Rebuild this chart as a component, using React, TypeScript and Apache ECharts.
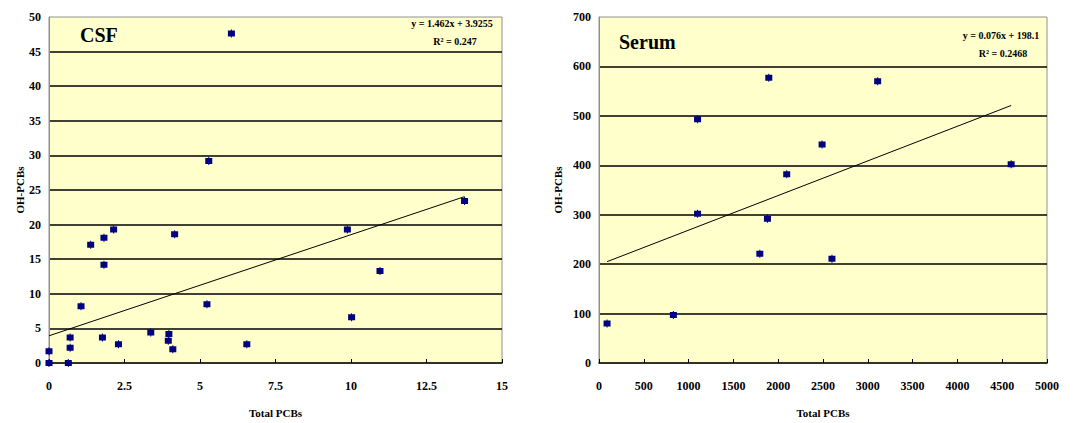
import React, { useEffect, useRef } from "react";
import * as echarts from "echarts";

// CSF data: [Total PCBs, OH-PCBs]
const csfX = [0, 0, 0.64, 0.7, 0.7, 1.06, 1.38, 1.82, 1.82, 1.77, 2.14, 2.3, 3.37, 3.97, 3.95, 4.1, 4.16, 5.23, 5.29, 6.04, 6.55, 9.88, 10.02, 10.96, 13.76];
const csfY = [0, 1.7, 0, 2.2, 3.7, 8.2, 17.1, 18.1, 14.2, 3.7, 19.3, 2.7, 4.4, 4.2, 3.2, 2.0, 18.6, 8.5, 29.2, 47.6, 2.7, 19.3, 6.6, 13.3, 23.4];
const csfTrendX = [0, 13.76];
const csfTrendY = [3.93, 24.04];

// Serum data
const serumX = [90, 830, 1100, 1795, 1880, 2600, 1100, 1895, 2095, 2490, 3110, 4600];
const serumY = [80, 97, 302, 221, 292, 211, 493, 577, 382, 442, 570, 402];
const serumTrendX = [90, 4600];
const serumTrendY = [205, 521];

const csfEq = ["y = 1.462x + 3.9255", "R² = 0.247"];
const serumEq = ["y = 0.076x + 198.1", "R² = 0.2468"];

const FONT = "'Liberation Serif', 'DejaVu Serif', serif";
const MARK = "path://M3,0 L4,0 L4,1 L7,1 L7,7 L4,7 L4,8 L3,8 L3,7 L0,7 L0,1 L3,1 Z";

const zip = (a: number[], b: number[]) => a.map((v, i) => [v, b[i]]);

export default function App() {
  const ref = useRef<HTMLDivElement>(null);
  useEffect(() => {
    document.body.style.margin = "0";
    const chart = echarts.init(ref.current!, null, { renderer: "svg" });
    const labelStyle = { fontFamily: FONT, fontWeight: "bold" as const, fontSize: 12, color: "#000" };
    const mkX = (idx: number, max: number, interval: number) => ({
      type: "value",
      gridIndex: idx,
      min: 0,
      max,
      interval,
      name: "Total PCBs",
      nameLocation: "middle",
      nameGap: 44,
      nameTextStyle: { fontFamily: FONT, fontWeight: "bold", fontSize: 11, color: "#000" },
      axisLine: { lineStyle: { color: "#000", width: 1.5 } },
      axisTick: { show: true, inside: true, length: 4, lineStyle: { color: "#000" } },
      axisLabel: { ...labelStyle, margin: 17, formatter: (v: number) => String(v) },
      splitLine: { show: false },
    });
    const mkY = (idx: number, max: number, interval: number, gap: number) => ({
      type: "value",
      gridIndex: idx,
      min: 0,
      max,
      interval,
      name: "OH-PCBs",
      nameLocation: "middle",
      nameGap: gap,
      nameRotate: 90,
      nameTextStyle: { fontFamily: FONT, fontWeight: "bold", fontSize: 11, color: "#000" },
      axisLine: { show: true, lineStyle: { color: "#909090", width: 1 } },
      axisTick: { show: false },
      axisLabel: { ...labelStyle, margin: 8, formatter: (v: number) => String(v) },
      splitLine: { show: true, showMaxLine: false, showMinLine: false, lineStyle: { color: "#000", width: 1.5 } },
    });
    const scatter = (idx: number, data: number[][]) => ({
      type: "scatter",
      xAxisIndex: idx,
      yAxisIndex: idx,
      data,
      symbol: MARK,
      symbolSize: [7, 8],
      itemStyle: { color: "#000080", opacity: 1 },
      z: 3,
    });
    const trend = (idx: number, data: number[][]) => ({
      type: "line",
      xAxisIndex: idx,
      yAxisIndex: idx,
      data,
      showSymbol: false,
      symbol: "none",
      lineStyle: { color: "#000", width: 1 },
      z: 2,
    });
    const eqText = (cx: number, y: number, text: string) => ({
      type: "text",
      x: cx,
      y,
      style: { text, fontFamily: FONT, fontSize: 10, fontWeight: "bold", fill: "#000", align: "center", verticalAlign: "middle" },
      z: 10,
    });
    chart.setOption({
      animation: false,
      backgroundColor: "#fff",
      grid: [
        { left: 49, top: 17, width: 453, height: 347, show: true, backgroundColor: "#FFFFCC", borderColor: "#909090", borderWidth: 1 },
        { left: 599, top: 17, width: 448, height: 347, show: true, backgroundColor: "#FFFFCC", borderColor: "#909090", borderWidth: 1 },
      ],
      xAxis: [mkX(0, 15, 2.5), mkX(1, 5000, 500)],
      yAxis: [mkY(0, 50, 5, 22), mkY(1, 700, 100, 36)],
      series: [
        trend(0, zip(csfTrendX, csfTrendY)),
        scatter(0, zip(csfX, csfY)),
        trend(1, zip(serumTrendX, serumTrendY)),
        scatter(1, zip(serumX, serumY)),
      ],
      graphic: [
        { type: "text", x: 80, y: 35, style: { text: "CSF", fontFamily: FONT, fontSize: 20, fontWeight: "bold", fill: "#000", verticalAlign: "middle" }, z: 10 },
        { type: "text", x: 619, y: 42, style: { text: "Serum", fontFamily: FONT, fontSize: 20, fontWeight: "bold", fill: "#000", verticalAlign: "middle" }, z: 10 },
        eqText(452, 23, csfEq[0]),
        eqText(455, 41, csfEq[1]),
        eqText(1001, 35, serumEq[0]),
        eqText(1003, 53, serumEq[1]),
      ],
    });
    return () => chart.dispose();
  }, []);
  return <div ref={ref} style={{ width: 1077, height: 423 }} />;
}
